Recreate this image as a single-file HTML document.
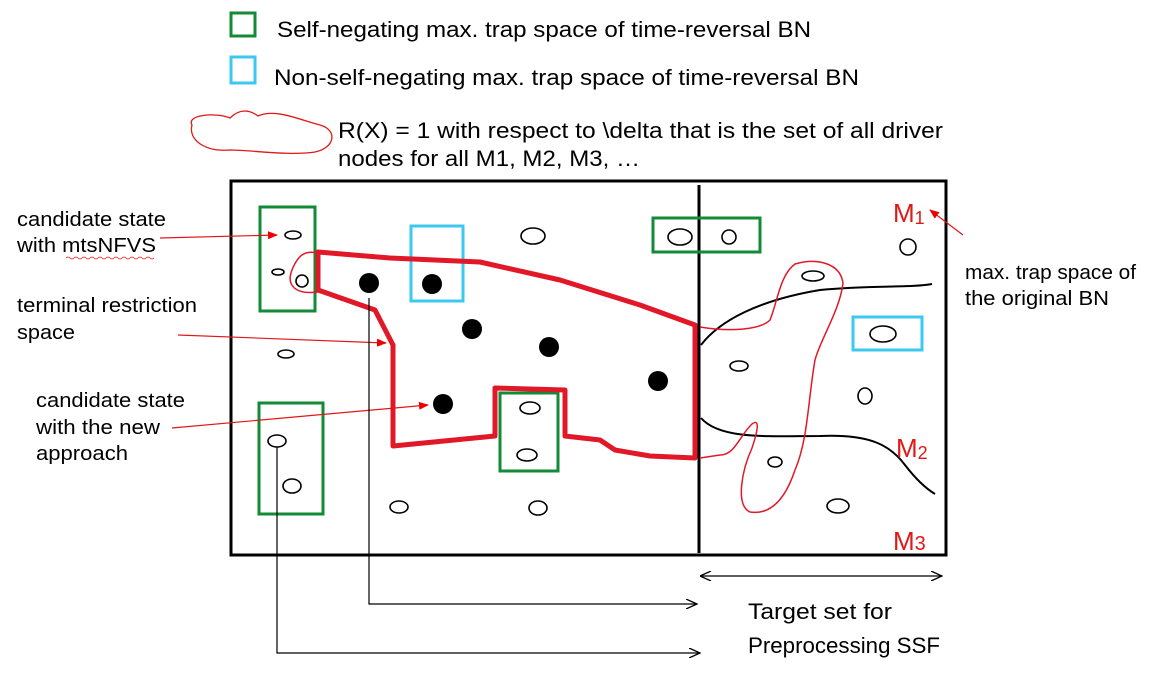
<!DOCTYPE html>
<html><head><style>
body{margin:0;background:#fff;}
svg{display:block;font-family:"Liberation Sans",sans-serif;}
</style></head><body>
<svg width="1151" height="674" viewBox="0 0 1151 674" xmlns="http://www.w3.org/2000/svg">
<defs>
<marker id="ar" markerWidth="10" markerHeight="8" refX="9" refY="4" orient="auto" markerUnits="userSpaceOnUse"><path d="M0,0 L10,4 L0,8 z" fill="#e00"/></marker>
<marker id="ab" markerWidth="12" markerHeight="10" refX="11" refY="5" orient="auto" markerUnits="userSpaceOnUse"><path d="M0,0 L11,5 L0,10" fill="none" stroke="#000" stroke-width="1.3"/></marker>
<marker id="abs" markerWidth="12" markerHeight="10" refX="1" refY="5" orient="auto" markerUnits="userSpaceOnUse"><path d="M11,0 L0,5 L11,10" fill="none" stroke="#000" stroke-width="1.3"/></marker>
</defs>
<!-- legend -->
<rect x="231" y="13" width="24" height="23" fill="none" stroke="#138a36" stroke-width="3"/>
<text x="277" y="37" font-size="22" textLength="534" lengthAdjust="spacingAndGlyphs">Self-negating max. trap space of time-reversal BN</text>
<rect x="231" y="57" width="24" height="26" fill="none" stroke="#3cc8f0" stroke-width="3"/>
<text x="274" y="85" font-size="22" textLength="585" lengthAdjust="spacingAndGlyphs">Non-self-negating max. trap space of time-reversal BN</text>
<path d="M192,125 C186,115 215,112 230,118 C240,108 250,110 258,116 C275,108 300,120 320,125 C338,130 335,148 315,152 C290,156 250,150 230,150 C205,152 188,140 192,125 Z" fill="none" stroke="#e01818" stroke-width="1.3"/>
<text x="338" y="138" font-size="22" textLength="605" lengthAdjust="spacingAndGlyphs">R(X) = 1 with respect to \delta that is the set of all driver</text>
<text x="338" y="166" font-size="22" textLength="302" lengthAdjust="spacingAndGlyphs">nodes for all M1, M2, M3, …</text>
<!-- main rect -->
<rect x="231" y="181" width="715" height="374" fill="none" stroke="#000" stroke-width="3"/>
<line x1="699" y1="185" x2="699" y2="553" stroke="#000" stroke-width="3"/>
<!-- boxes -->
<g fill="none" stroke="#138a36" stroke-width="3">
<rect x="260" y="207" width="55" height="104"/>
<rect x="259" y="403" width="64" height="111"/>
<rect x="500" y="393" width="58" height="78"/>
<rect x="653" y="218" width="107" height="34"/>
</g>
<g fill="none" stroke="#3cc8f0" stroke-width="3">
<rect x="411" y="226" width="52" height="75"/>
<rect x="853" y="317" width="69" height="33"/>
</g>
<!-- curves -->
<path d="M701,345 C720,320 760,300 820,290 C870,285 910,288 932,284" fill="none" stroke="#000" stroke-width="2"/>
<path d="M701,418 C720,440 770,436 820,436 C870,434 890,445 905,465 C915,478 925,488 935,494" fill="none" stroke="#000" stroke-width="2"/>
<!-- red region -->
<path d="M318,252 L390,258 L480,262 L560,280 L640,305 L695,325 L695,458 L650,456 L615,450 L600,440 L565,436 L565,390 L495,388 L495,436 L393,446 L393,345 L375,310 L318,290 Z" fill="none" stroke="#e01828" stroke-width="5" stroke-linejoin="round"/>
<path d="M318,253 C305,250 298,255 292,270 C286,285 295,295 318,292" fill="none" stroke="#e01828" stroke-width="1.5"/>
<path d="M700,327 C730,332 760,330 770,320 C778,300 780,275 795,264 C815,258 840,262 843,283 C840,310 820,340 815,360 C808,400 808,440 795,470 C785,500 770,515 750,512 C735,505 742,470 752,448 C758,430 760,418 752,424 C740,435 735,455 720,455 L700,458" fill="none" stroke="#e01828" stroke-width="1.5"/>
<!-- ellipses -->
<g fill="#fff" stroke="#000" stroke-width="1.6">
<ellipse cx="293" cy="235" rx="8" ry="4"/>
<ellipse cx="278" cy="272" rx="6" ry="3"/>
<ellipse cx="302" cy="281" rx="6" ry="6"/>
<ellipse cx="533" cy="236" rx="12" ry="8"/>
<ellipse cx="680" cy="237" rx="12" ry="8"/>
<ellipse cx="729" cy="237" rx="7" ry="7"/>
<ellipse cx="286" cy="354" rx="8" ry="4"/>
<ellipse cx="277" cy="441" rx="9" ry="6"/>
<ellipse cx="292" cy="486" rx="9" ry="7"/>
<ellipse cx="530" cy="408" rx="10" ry="6"/>
<ellipse cx="527" cy="455" rx="10" ry="6"/>
<ellipse cx="399" cy="507" rx="9" ry="6"/>
<ellipse cx="538" cy="508" rx="9" ry="7"/>
<ellipse cx="908" cy="247" rx="8" ry="8"/>
<ellipse cx="813" cy="276" rx="11" ry="5"/>
<ellipse cx="739" cy="366" rx="9" ry="5"/>
<ellipse cx="883" cy="334" rx="13" ry="8"/>
<ellipse cx="865" cy="396" rx="7" ry="8"/>
<ellipse cx="775" cy="462" rx="7" ry="5"/>
<ellipse cx="838" cy="506" rx="11" ry="7"/>
</g>
<g fill="#000">
<circle cx="369" cy="283" r="10"/>
<circle cx="432" cy="284" r="10"/>
<circle cx="472" cy="329" r="10"/>
<circle cx="549" cy="347" r="10"/>
<circle cx="658" cy="381" r="10"/>
<circle cx="443" cy="404" r="10"/>
</g>
<!-- labels -->
<g fill="#e01818" font-size="26">
<text x="893" y="222">M<tspan font-size="18" dy="2">1</tspan></text>
<text x="896" y="457">M<tspan font-size="18" dy="2">2</tspan></text>
<text x="893" y="550">M<tspan font-size="20" dy="0">3</tspan></text>
</g>
<g stroke="#e01818" stroke-width="1.2" fill="none">
<line x1="160" y1="238" x2="277" y2="235" marker-end="url(#ar)"/>
<line x1="178" y1="335" x2="386" y2="343" marker-end="url(#ar)"/>
<line x1="172" y1="428" x2="428" y2="405" marker-end="url(#ar)"/>
<line x1="963" y1="235" x2="930" y2="210" marker-end="url(#ar)"/>
</g>
<g font-size="20" fill="#000" lengthAdjust="spacingAndGlyphs">
<text x="17" y="226" textLength="149" lengthAdjust="spacingAndGlyphs">candidate state</text>
<text x="17" y="252" textLength="139" lengthAdjust="spacingAndGlyphs">with mtsNFVS</text>
<text x="17" y="312" textLength="180" lengthAdjust="spacingAndGlyphs">terminal restriction</text>
<text x="17" y="339" textLength="58" lengthAdjust="spacingAndGlyphs">space</text>
<text x="36" y="407" textLength="149" lengthAdjust="spacingAndGlyphs">candidate state</text>
<text x="36" y="434" textLength="124" lengthAdjust="spacingAndGlyphs">with the new</text>
<text x="36" y="460" textLength="92" lengthAdjust="spacingAndGlyphs">approach</text>
<text x="965" y="279" textLength="171" lengthAdjust="spacingAndGlyphs">max. trap space of</text>
<text x="965" y="305" textLength="144" lengthAdjust="spacingAndGlyphs">the original BN</text>
</g>
<path d="M66,258 q2,-2 4,0 t4,0 t4,0 t4,0 t4,0 t4,0 t4,0 t4,0 t4,0 t4,0 t4,0 t4,0 t4,0 t4,0 t4,0 t4,0 t4,0 t4,0 t4,0 t4,0 t4,0 t4,0" fill="none" stroke="#e01818" stroke-width="0.8"/>
<!-- black connectors -->
<path d="M369,298 L369,604 L697,604" fill="none" stroke="#000" stroke-width="1.2" marker-end="url(#ab)"/>
<path d="M277,447 L277,653 L700,653" fill="none" stroke="#000" stroke-width="1.2" marker-end="url(#ab)"/>
<line x1="701" y1="576" x2="942" y2="576" stroke="#000" stroke-width="1.2" marker-start="url(#abs)" marker-end="url(#ab)"/>
<text x="748" y="619" font-size="22" textLength="144" lengthAdjust="spacingAndGlyphs">Target set for</text>
<text x="748" y="653" font-size="22" textLength="192" lengthAdjust="spacingAndGlyphs">Preprocessing SSF</text>
</svg>
</body></html>
